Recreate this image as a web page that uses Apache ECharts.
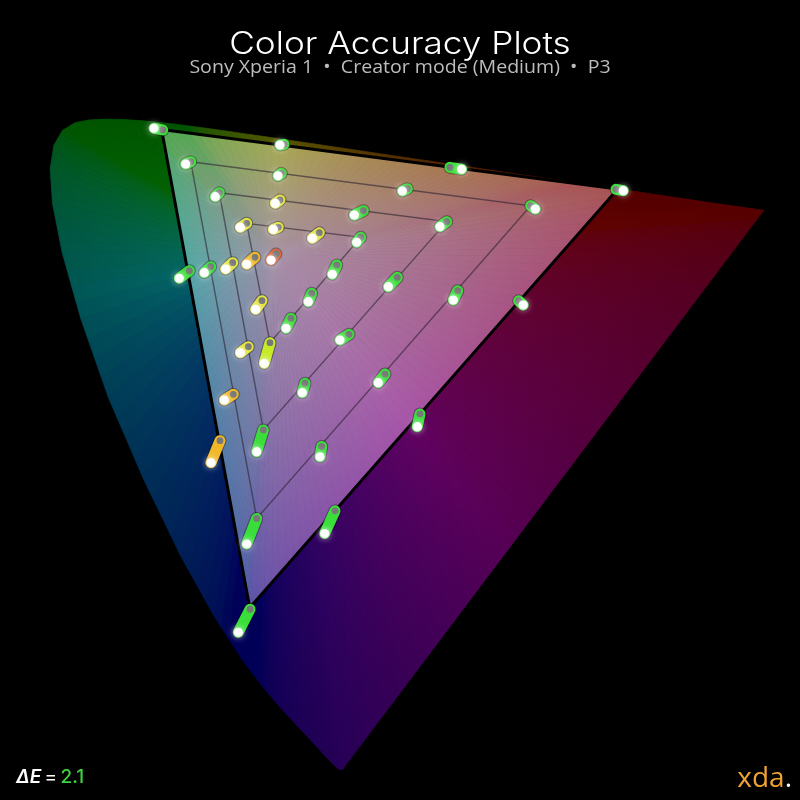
<!DOCTYPE html>
<html><head><meta charset="utf-8">
<script src="https://cdn.jsdelivr.net/npm/echarts/dist/echarts.min.js"></script>
<style>html,body{margin:0;padding:0;background:#000}#c{width:800px;height:800px}</style>
</head><body><div id="c"></div>
<script>
// CIE 1931 spectral locus (x, y), 380..700 nm
const locusX = [0.1741,0.1740,0.1738,0.1736,0.1733,0.1730,0.1726,0.1721,0.1714,0.1703,0.1689,0.1669,0.1644,0.1611,0.1566,0.1510,0.1440,0.1355,0.1241,0.1096,0.0913,0.0687,0.0454,0.0235,0.0082,0.0039,0.0139,0.0389,0.0743,0.1142,0.1547,0.1929,0.2296,0.2658,0.3016,0.3373,0.3731,0.4087,0.4441,0.4788,0.5125,0.5448,0.5752,0.6029,0.6270,0.6482,0.6658,0.6801,0.6915,0.7006,0.7079,0.7140,0.7190,0.7230,0.7260,0.7283,0.7300,0.7311,0.7320,0.7327,0.7334,0.7340,0.7344,0.7346,0.7347];
const locusY = [0.0050,0.0050,0.0049,0.0049,0.0048,0.0048,0.0048,0.0048,0.0051,0.0058,0.0069,0.0086,0.0109,0.0138,0.0177,0.0227,0.0297,0.0399,0.0578,0.0868,0.1327,0.2007,0.2950,0.4127,0.5384,0.6548,0.7502,0.8120,0.8338,0.8262,0.8059,0.7816,0.7543,0.7243,0.6923,0.6589,0.6245,0.5896,0.5547,0.5202,0.4866,0.4544,0.4242,0.3965,0.3725,0.3514,0.3340,0.3197,0.3083,0.2993,0.2920,0.2859,0.2809,0.2770,0.2740,0.2717,0.2700,0.2689,0.2680,0.2673,0.2666,0.2660,0.2656,0.2654,0.2653];
// P3 gamut primaries (x, y) and D65 white
const gamutX = [0.680, 0.265, 0.150];
const gamutY = [0.320, 0.690, 0.060];
const whiteXY = [0.3127, 0.3290];

// Targets and measurements in CIE 1976 u'v'
const targetU = [0.0996,0.2053,0.1240,0.2030,0.1489,0.2018,0.1728,0.2003,0.3500,0.3128,0.3472,0.2745,0.2361,0.2722,0.4204,0.4948,0.1228,0.1414,0.1606,0.1800,0.1983,0.1861,0.2295,0.2114,0.1742,0.1931,0.2236,0.1611,0.2513,0.3041,0.3568,0.4099,0.2620,0.2934,0.1873,0.1495,0.2382,0.1815,0.2498,0.3239,0.1757];
const targetV = [0.5773,0.5647,0.5494,0.5392,0.5222,0.5158,0.4953,0.4918,0.5445,0.5257,0.4968,0.5064,0.4871,0.4831,0.5108,0.5252,0.4537,0.4572,0.4608,0.4655,0.4684,0.4274,0.4339,0.4119,0.3870,0.3905,0.3549,0.3452,0.4587,0.4479,0.4362,0.4274,0.3979,0.3630,0.3139,0.3045,0.2994,0.2362,0.2429,0.3279,0.1565];
const measuredU = [0.0920,0.2018,0.1196,0.2001,0.1454,0.1977,0.1672,0.1960,0.3602,0.3085,0.3413,0.2666,0.2300,0.2687,0.4244,0.5011,0.1140,0.1358,0.1545,0.1728,0.1940,0.1806,0.2265,0.2071,0.1672,0.1881,0.2213,0.1533,0.2474,0.2963,0.3529,0.4139,0.2541,0.2875,0.1815,0.1417,0.2367,0.1728,0.2408,0.3215,0.1655];
const measuredV = [0.5788,0.5641,0.5474,0.5371,0.5187,0.5129,0.4918,0.4901,0.5428,0.5237,0.4924,0.5026,0.4822,0.4787,0.5079,0.5240,0.4471,0.4520,0.4552,0.4594,0.4631,0.4198,0.4265,0.4032,0.3817,0.3724,0.3466,0.3402,0.4506,0.4397,0.4280,0.4236,0.3929,0.3554,0.2948,0.2852,0.2904,0.2138,0.2230,0.3168,0.1363];
const deltaE = [1.9,0.8,1.3,1.6,1.8,3.1,3.3,3.2,1.7,1.0,1.4,1.6,3.2,1.2,0.9,1.0,2.4,2.0,3.0,3.9,4.8,3.4,1.9,2.2,3.3,2.8,1.8,3.7,1.6,1.5,1.4,1.0,1.3,1.5,2.3,4.0,1.1,2.0,1.7,1.2,1.8];
// saturation grid triangles (indices into targets): 75%, 50%, 25%
const gridTriangles = [[2,14,37],[4,10,34],[6,13,25]];

const titleText = 'Color Accuracy Plots';
const subtitleText = 'Sony Xperia 1  •  Creator mode (Medium)  •  P3';
const averageDeltaE = '2.1';

function xyToUv(x, y) { const d = -2 * x + 12 * y + 3; return [4 * x / d, 9 * y / d]; }
const locusUV = locusX.map((x, i) => xyToUv(x, locusY[i]));
const gamutUV = gamutX.map((x, i) => xyToUv(x, gamutY[i]));
const whiteUV = xyToUv(whiteXY[0], whiteXY[1]);

function uvToRgb(u, v) {
  const d = 6 * u - 16 * v + 12;
  const x = 9 * u / d, y = 4 * v / d;
  const X = x / y, Y = 1, Z = (1 - x - y) / y;
  let r = 3.2406 * X - 1.5372 * Y - 0.4986 * Z;
  let g = -0.9689 * X + 1.8758 * Y + 0.0415 * Z;
  let b = 0.0557 * X - 0.2040 * Y + 1.0570 * Z;
  r = Math.max(r, 0); g = Math.max(g, 0); b = Math.max(b, 0);
  const m = Math.max(r, g, b) || 1;
  const gam = c => c <= 0.0031308 ? 12.92 * c : 1.055 * Math.pow(c, 1 / 2.4) - 0.055;
  return [gam(r / m), gam(g / m), gam(b / m)];
}
const rgb = a => 'rgb(' + a.map(v => Math.round(Math.max(0, Math.min(255, v)))).join(',') + ')';

function deColor(de) {
  if (de < 2.6) return '#39de39';
  if (de < 3.0) return '#c6ec26';
  if (de < 3.6) return '#e2e23a';
  if (de < 4.5) return '#f0b828';
  return '#dc643a';
}

// fan data: [u1, v1, u2, v2, kind, subdivisions]
const fanData = [];
for (let i = 0; i < locusUV.length - 1; i++) {
  fanData.push([locusUV[i][0], locusUV[i][1], locusUV[i + 1][0], locusUV[i + 1][1], 0, 4]);
}
fanData.push([locusUV[locusUV.length - 1][0], locusUV[locusUV.length - 1][1], locusUV[0][0], locusUV[0][1], 0, 60]);
const triData = [];
for (let i = 0; i < 3; i++) {
  const a = gamutUV[i], b = gamutUV[(i + 1) % 3];
  triData.push([a[0], a[1], b[0], b[1], 1, 50]);
}

function renderFan(params, api) {
  const u1 = api.value(0), v1 = api.value(1), u2 = api.value(2), v2 = api.value(3);
  const kind = api.value(4), n = api.value(5);
  const c = api.coord(whiteUV);
  const children = [];
  for (let k = 0; k < n; k++) {
    const ua = u1 + (u2 - u1) * k / n, va = v1 + (v2 - v1) * k / n;
    const ub = u1 + (u2 - u1) * (k + 1) / n, vb = v1 + (v2 - v1) * (k + 1) / n;
    const um = (ua + ub) / 2, vm = (va + vb) / 2;
    const pa = api.coord([ua, va]), pb = api.coord([ub, vb]), pm = api.coord([um, vm]);
    const col = uvToRgb(um, vm);
    let edge, center;
    if (kind === 0) {
      edge = rgb(col.map(q => q * 86));
      center = rgb(col.map(q => q * 108 + 6));
    } else {
      edge = rgb(col.map(q => 168 * (0.5 + 0.5 * q)));
      center = rgb([168, 148, 168]);
    }
    const grad = new echarts.graphic.LinearGradient(c[0], c[1], pm[0], pm[1],
      [{ offset: 0, color: center }, { offset: 1, color: edge }], true);
    children.push({ type: 'polygon', shape: { points: [c, pa, pb] },
      style: { fill: grad, stroke: grad, lineWidth: 0.7 } });
  }
  return { type: 'group', children };
}

const gridData = gridTriangles.map(t => t.flatMap(i => [targetU[i], targetV[i]]));
const errData = targetU.map((u, i) => [u, targetV[i], measuredU[i], measuredV[i], deltaE[i]]);

const chart = echarts.init(document.getElementById('c'), null, { renderer: 'canvas' });
chart.setOption({
  backgroundColor: '#000',
  animation: false,
  grid: { left: 48.5, right: 5.95, top: 47.15, bottom: 12.5 },
  xAxis: { type: 'value', min: 0, max: 0.65, show: false },
  yAxis: { type: 'value', min: 0, max: 0.65, show: false },
  graphic: [
    { type: 'text', x: 400, y: 45, scaleX: 1.135, style: { x: 0, y: 0, text: titleText, fill: '#fff', align: 'center', verticalAlign: 'middle', font: '300 31px Inter, "Open Sans", sans-serif' } },
    { type: 'text', x: 400, y: 67.5, scaleX: 1.03, style: { x: 0, y: 0, text: subtitleText, fill: '#bdbdbd', align: 'center', verticalAlign: 'middle', font: '400 19px "Open Sans", Inter, sans-serif' } },
    { type: 'text', left: 16, top: 768, style: { text: '{a|ΔE} {b|=} {c|' + averageDeltaE + '}',
        rich: { a: { fill: '#fff', font: 'italic 600 19px Inter, Roboto, sans-serif' },
                b: { fill: '#fff', font: '400 19px Inter, Roboto, sans-serif' },
                c: { fill: '#3fd23f', font: '500 19px Inter, Roboto, sans-serif' } } } },
    { type: 'text', right: 8, top: 765, style: { text: '{o|xda}{w|.}',
        rich: { o: { fill: '#f0a232', font: '400 28px "Open Sans", Lato, sans-serif' },
                w: { fill: '#fff', font: '400 28px "Open Sans", Lato, sans-serif' } } } }
  ],
  series: [
    { type: 'custom', z: 1, data: fanData, renderItem: renderFan, silent: true },
    { type: 'custom', z: 2, data: triData, renderItem: renderFan, silent: true },
    { type: 'custom', z: 3, data: gridData, silent: true,
      renderItem: (p, api) => {
        const pts = [0, 1, 2].map(j => api.coord([api.value(2 * j), api.value(2 * j + 1)]));
        return { type: 'polygon', shape: { points: pts }, style: { fill: 'none', stroke: 'rgba(45,35,50,0.6)', lineWidth: 1.4 } };
      } },
    { type: 'custom', z: 4, data: [gamutUV.flat()], silent: true,
      renderItem: (p, api) => {
        const pts = [0, 1, 2].map(j => api.coord([api.value(2 * j), api.value(2 * j + 1)]));
        return { type: 'polygon', shape: { points: pts }, style: { fill: 'none', stroke: '#000', lineWidth: 3, lineJoin: 'miter' } };
      } },
    { type: 'custom', z: 5, data: errData, silent: true,
      renderItem: (p, api) => {
        const t = api.coord([api.value(0), api.value(1)]);
        const m = api.coord([api.value(2), api.value(3)]);
        const col = deColor(api.value(4));
        const seg = { x1: t[0], y1: t[1], x2: m[0], y2: m[1] };
        return { type: 'group', children: [
          { type: 'line', shape: seg, style: { stroke: 'rgba(0,0,0,0.35)', lineWidth: 13, lineCap: 'round' } },
          { type: 'line', shape: seg, style: { stroke: col, lineWidth: 11, lineCap: 'round' } },
          { type: 'circle', shape: { cx: t[0], cy: t[1], r: 3.4 }, style: { fill: '#787878' } },
          { type: 'circle', shape: { cx: m[0], cy: m[1], r: 4.6 }, style: { fill: '#fff', shadowBlur: 6, shadowColor: 'rgba(255,255,255,0.9)' } }
        ] };
      } }
  ]
});
</script></body></html>
